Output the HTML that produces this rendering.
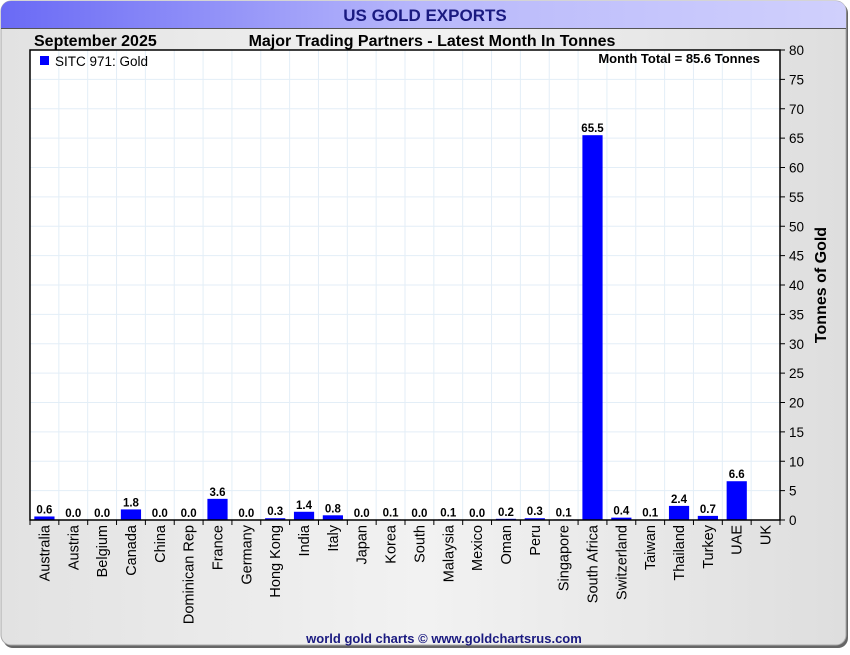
<!DOCTYPE html>
<html><head><meta charset="utf-8"><style>
body{margin:0;width:850px;height:650px;overflow:hidden;background:#fff;font-family:"Liberation Sans",sans-serif}
</style></head><body>
<svg width="850" height="650" xmlns="http://www.w3.org/2000/svg">
<defs>
<linearGradient id="tg" x1="0" x2="1"><stop offset="0" stop-color="#6a6af5"/><stop offset="0.5" stop-color="#b8b8fb"/><stop offset="1" stop-color="#d0d0fc"/></linearGradient>
<linearGradient id="bg" x1="0" x2="1"><stop offset="0" stop-color="#e2e2e2"/><stop offset="0.5" stop-color="#f2f2f2"/><stop offset="1" stop-color="#dedede"/></linearGradient>
</defs>
<rect x="3" y="3" width="845" height="645" rx="10" fill="#666"/>
<rect x="1" y="1" width="845" height="644" rx="10" fill="url(#bg)" stroke="#aaa"/>
<path d="M1,28 V11 A10,10 0 0 1 11,1 H836 A10,10 0 0 1 846,11 V28 Z" fill="url(#tg)"/>
<line x1="1" y1="28.5" x2="846" y2="28.5" stroke="#555"/>
<text x="425" y="21" text-anchor="middle" font-size="17" font-weight="bold" fill="#1a1a80">US GOLD EXPORTS</text>
<text x="34" y="46" font-size="16" font-weight="bold" fill="#000">September 2025</text>
<text x="432" y="46" text-anchor="middle" font-size="16" font-weight="bold" fill="#000">Major Trading Partners - Latest Month In Tonnes</text>
<rect x="30" y="50" width="750" height="470" fill="#fff"/>
<g id="grid"></g>
<g id="bars"></g>
<rect x="30" y="50" width="750" height="470" fill="none" stroke="#000" stroke-width="1.5"/>
<g id="yaxis"></g>
<g id="xaxis"></g>
<rect x="40" y="56" width="9" height="9" fill="#0000ff"/>
<text x="55" y="66" font-size="13.5" fill="#000">SITC 971: Gold</text>
<text x="760" y="63" text-anchor="end" font-size="13" font-weight="bold" fill="#000">Month Total = 85.6 Tonnes</text>
<text transform="translate(826,285) rotate(-90)" text-anchor="middle" font-size="16" font-weight="bold" fill="#000">Tonnes of Gold</text>
<text x="444" y="643" text-anchor="middle" font-size="13" font-weight="bold" fill="#1a1a80">world gold charts © www.goldchartsrus.com</text>
</svg>
<script>
const categories=["Australia","Austria","Belgium","Canada","China","Dominican Rep","France","Germany","Hong Kong","India","Italy","Japan","Korea","South","Malaysia","Mexico","Oman","Peru","Singapore","South Africa","Switzerland","Taiwan","Thailand","Turkey","UAE","UK"];
const values=[0.6,0.0,0.0,1.8,0.0,0.0,3.6,0.0,0.3,1.4,0.8,0.0,0.1,0.0,0.1,0.0,0.2,0.3,0.1,65.5,0.4,0.1,2.4,0.7,6.6,null];
const yTicks=[0,5,10,15,20,25,30,35,40,45,50,55,60,65,70,75,80];
</script>
<script>
(function(){
const NS="http://www.w3.org/2000/svg";
const L=30,R=780,T=50,B=520,yMax=80;
const cats=categories, vals=values;
const n=cats.length;
const bw=(R-L)/n;
const x=i=>L+i*bw;
const y=v=>B-(v/yMax)*(B-T);
function mk(tag,attrs,parent){const e=document.createElementNS(NS,tag);for(const k in attrs)e.setAttribute(k,attrs[k]);parent.appendChild(e);return e;}
const grid=document.getElementById('grid'),bars=document.getElementById('bars'),ya=document.getElementById('yaxis'),xa=document.getElementById('xaxis');
yTicks.forEach(t=>{
 if(t>0&&t<yMax){const g=mk('line',{x1:L,x2:R,y1:y(t),y2:y(t),stroke:'#e3eef7'},grid);
 
 }
 const tk=mk('line',{x1:R,x2:R+5,y1:y(t),y2:y(t),stroke:'#000'},ya);
 
 
 const tl=mk('text',{x:R+9,y:y(t)+5,'font-size':13.5,fill:'#000'},ya);
 tl.textContent=t;
 
 
});
for(let i=1;i<n;i++){const g=mk('line',{x1:x(i),x2:x(i),y1:T,y2:B,stroke:'#e3eef7'},grid);
 
 }
for(let i=0;i<=n;i++){const t=mk('line',{x1:x(i),x2:x(i),y1:B,y2:B+5,stroke:'#000'},xa);
 
 }
cats.forEach((c,i)=>{
 const cx=x(i)+bw/2;
 const lb=mk('text',{transform:`translate(${cx+5},${B+5}) rotate(-90)`,'text-anchor':'end','font-size':14.5,fill:'#000'},xa);
 lb.textContent=c;
 
 
 const v=vals[i];
 if(v===null||v===undefined)return;
 const w=bw*0.7;
 const r=mk('rect',{x:cx-w/2,y:y(v),width:w,height:B-y(v),fill:'#0000ff'},bars);
 
 
 const vl=mk('text',{x:cx,y:y(v)-3,'text-anchor':'middle','font-size':11.5,'font-weight':'bold',fill:'#000'},bars);
 vl.textContent=v.toFixed(1);
 
 
});
})();
</script>
</body></html>
